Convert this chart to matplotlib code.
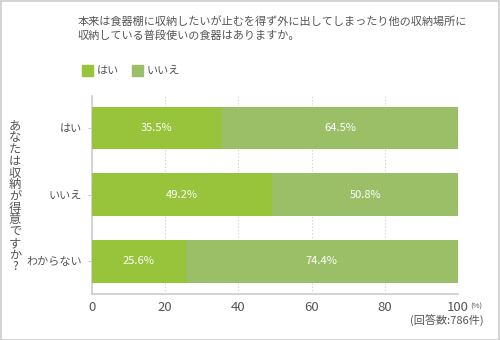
import matplotlib.pyplot as plt
from matplotlib.patches import Rectangle
import numpy as np

plt.rcParams['font.family'] = ['Noto Sans CJK JP', 'DejaVu Sans']

title = '本来は食器棚に収納したいが止むを得ず外に出してしまったり他の収納場所に\n収納している普段使いの食器はありますか。'
categories = ['はい', 'いいえ', 'わからない']
yes_vals = [35.5, 49.2, 25.6]
no_vals = [64.5, 50.8, 74.4]
series_names = ['はい', 'いいえ']
ylabel = 'あなたは収納が得意ですか?'
xticks = [0, 20, 40, 60, 80, 100]
note = '(回答数:786件)'

c_yes = '#97c43a'
c_no = '#9bbf67'
txt = '#555555'

fig = plt.figure(figsize=(5, 3.4), dpi=100)
fig.patches.append(Rectangle((0.001, 0.001), 0.997, 0.996, transform=fig.transFigure,
                             fill=False, edgecolor='#cccccc', lw=1.2))

ax = fig.add_axes([0.184, 0.135, 0.732, 0.583])
y = np.arange(len(categories))
ax.barh(y, yes_vals, height=0.64, color=c_yes, zorder=3)
ax.barh(y, no_vals, left=yes_vals, height=0.64, color=c_no, zorder=3)

for i in range(len(categories)):
    ax.text(yes_vals[i] / 2, i, f'{yes_vals[i]}%', color='white', ha='center', va='center',
            fontsize=8, zorder=4)
    ax.text(yes_vals[i] + no_vals[i] / 2, i, f'{no_vals[i]}%', color='white', ha='center',
            va='center', fontsize=8, zorder=4)

ax.set_xlim(0, 100)
ax.set_ylim(2.49, -0.48)
ax.set_xticks(xticks)
ax.set_xticklabels([str(t) for t in xticks])
ax.set_yticks(y)
ax.set_yticklabels(categories)
ax.tick_params(axis='x', length=0, labelsize=9.5, colors=txt, pad=5)
ax.tick_params(axis='y', length=3, labelsize=8, colors=txt, pad=4, color='#cccccc')
ax.xaxis.grid(True, linestyle=(0, (1, 2)), color='#cccccc', lw=0.8, zorder=0)
for s in ['top', 'right']:
    ax.spines[s].set_visible(False)
for s in ['left', 'bottom']:
    ax.spines[s].set_color('#cccccc')
    ax.spines[s].set_linewidth(1.2)

fig.text(0.156, 0.952, title, fontsize=8, color=txt, va='top', linespacing=1.35)

# legend
fig.patches.append(Rectangle((0.164, 0.776), 0.021, 0.032, transform=fig.transFigure,
                             color=c_yes))
fig.text(0.194, 0.792, series_names[0], fontsize=8, color=txt, va='center')
fig.patches.append(Rectangle((0.264, 0.776), 0.021, 0.032, transform=fig.transFigure,
                             color=c_no))
fig.text(0.294, 0.792, series_names[1], fontsize=8, color=txt, va='center')

# vertical y-axis title, one character per line slot
pitch = 11.75 / 340
top = 1 - 126 / 340
for k, ch in enumerate(ylabel):
    fig.text(0.03, top - k * pitch, ch, fontsize=8.8, color=txt, ha='center', va='center')

fig.text(0.941, 0.097, '(%)', fontsize=5.5, color=txt, ha='left', va='center')
fig.text(0.968, 0.055, note, fontsize=8, color=txt, ha='right', va='center')

fig.savefig('out.png', dpi=100)
